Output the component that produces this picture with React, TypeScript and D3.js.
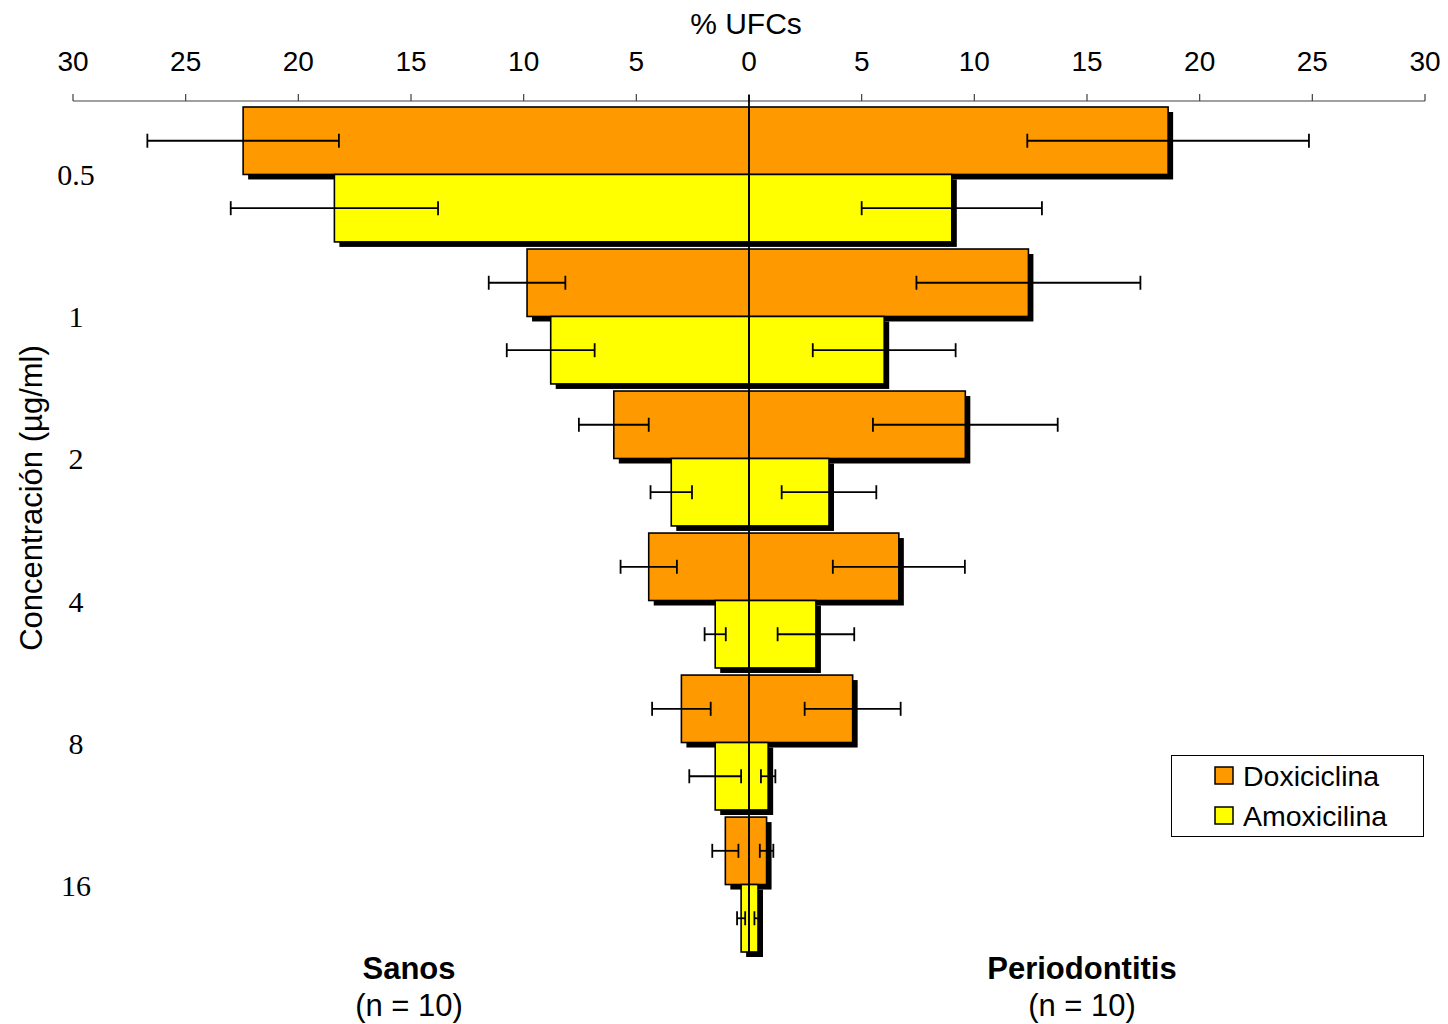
import React from "react";
import * as d3 from "d3";

const concentrations = ["0.5", "1", "2", "4", "8", "16"];
const seriesNames = ["Doxiciclina", "Amoxicilina"];
const seriesColors = ["#FF9900", "#FFFF00"];
const xTicks = [0, 5, 10, 15, 20, 25, 30];

// Sanos (left side)
const sanosDoxi = [22.45, 9.85, 6.0, 4.45, 3.0, 1.05];
const sanosDoxiErr = [4.25, 1.7, 1.55, 1.25, 1.3, 0.58];
const sanosAmoxi = [18.4, 8.8, 3.45, 1.5, 1.5, 0.35];
const sanosAmoxiErr = [4.6, 1.95, 0.92, 0.47, 1.15, 0.18];
// Periodontitis (right side)
const perioDoxi = [18.6, 12.4, 9.6, 6.65, 4.6, 0.78];
const perioDoxiErr = [6.25, 4.97, 4.1, 2.93, 2.13, 0.3];
const perioAmoxi = [9.0, 6.0, 3.55, 2.97, 0.85, 0.4];
const perioAmoxiErr = [4.0, 3.17, 2.1, 1.7, 0.32, 0.16];

const W = 1448;
const H = 1024;
const cx = 749;
const top = 107;
const bottom = 952;

export default function App() {
  const xRight = d3.scaleLinear().domain([0, 30]).range([cx, 1425]);
  const xLeft = d3.scaleLinear().domain([0, 30]).range([cx, 73]);
  const yGroup = d3
    .scaleBand<string>()
    .domain(concentrations)
    .range([top, bottom])
    .paddingInner(0.05)
    .paddingOuter(0);
  const ySeries = d3
    .scaleBand<string>()
    .domain(seriesNames)
    .range([0, yGroup.bandwidth()])
    .padding(0);

  const data = [
    { side: "L", vals: [sanosDoxi, sanosAmoxi], errs: [sanosDoxiErr, sanosAmoxiErr] },
    { side: "R", vals: [perioDoxi, perioAmoxi], errs: [perioDoxiErr, perioAmoxiErr] },
  ];

  const sh = 5;
  const sansFont = "'Liberation Sans', Arial, sans-serif";
  const serifFont = "'Liberation Serif', 'Times New Roman', serif";

  const bars: any[] = [];
  const errs: any[] = [];
  concentrations.forEach((c, i) => {
    seriesNames.forEach((s, si) => {
      const y0 = (yGroup(c) as number) + (ySeries(s) as number);
      const h = ySeries.bandwidth();
      data.forEach((d) => {
        const v = d.vals[si][i];
        const e = d.errs[si][i];
        const sc = d.side === "L" ? xLeft : xRight;
        const xa = Math.min(sc(0), sc(v));
        const xb = Math.max(sc(0), sc(v));
        bars.push(
          <g key={`b-${c}-${s}-${d.side}`}>
            <rect x={xa + sh} y={y0 + sh} width={xb - xa} height={h} fill="#000" />
            <rect
              x={xa}
              y={y0}
              width={xb - xa}
              height={h}
              fill={seriesColors[si]}
              stroke="#000"
              strokeWidth={1.6}
            />
          </g>
        );
        const yc = y0 + h / 2;
        const e1 = sc(v - e);
        const e2 = sc(v + e);
        errs.push(
          <g key={`e-${c}-${s}-${d.side}`} stroke="#000" strokeWidth={1.8}>
            <line x1={e1} x2={e2} y1={yc} y2={yc} />
            <line x1={e1} x2={e1} y1={yc - 7} y2={yc + 7} />
            <line x1={e2} x2={e2} y1={yc - 7} y2={yc + 7} />
          </g>
        );
      });
    });
  });

  const axisY = 101;

  return (
    <svg width={W} height={H} style={{ position: "absolute", left: 0, top: 0, background: "#fff" }}>
      <rect x={0} y={0} width={W} height={H} fill="#fff" />
      {/* top axis */}
      <text x={cx - 3} y={34} fontFamily={sansFont} fontSize={30} textAnchor="middle" fill="#000">
        % UFCs
      </text>
      <line x1={73} x2={1425} y1={axisY} y2={axisY} stroke="#808080" strokeWidth={1.5} />
      {xTicks.map((t) => (
        <g key={`tl-${t}`}>
          <line x1={xLeft(t)} x2={xLeft(t)} y1={axisY - 7} y2={axisY} stroke="#404040" strokeWidth={1.2} />
          <text x={xLeft(t)} y={71} fontFamily={sansFont} fontSize={28} textAnchor="middle" fill="#000">
            {t}
          </text>
        </g>
      ))}
      {xTicks
        .filter((t) => t > 0)
        .map((t) => (
          <g key={`tr-${t}`}>
            <line x1={xRight(t)} x2={xRight(t)} y1={axisY - 7} y2={axisY} stroke="#404040" strokeWidth={1.2} />
            <text x={xRight(t)} y={71} fontFamily={sansFont} fontSize={28} textAnchor="middle" fill="#000">
              {t}
            </text>
          </g>
        ))}
      {bars}
      {errs}
      {/* center line */}
      <line x1={cx} x2={cx} y1={axisY - 6} y2={bottom + 3} stroke="#000" strokeWidth={1.8} />
      {/* y labels */}
      {concentrations.map((c) => (
        <text
          key={`yl-${c}`}
          x={76}
          y={(yGroup(c) as number) + yGroup.bandwidth() / 2 + 11}
          fontFamily={serifFont}
          fontSize={30}
          textAnchor="middle"
          fill="#000"
        >
          {c}
        </text>
      ))}
      <text
        transform={`translate(42, 498) rotate(-90)`}
        fontFamily={sansFont}
        fontSize={31}
        textAnchor="middle"
        fill="#000"
      >
        Concentración (µg/ml)
      </text>
      {/* bottom labels */}
      <text x={409} y={979} fontFamily={sansFont} fontSize={31} fontWeight="bold" textAnchor="middle">
        Sanos
      </text>
      <text x={409} y={1016} fontFamily={sansFont} fontSize={31} textAnchor="middle">
        (n = 10)
      </text>
      <text x={1082} y={979} fontFamily={sansFont} fontSize={31} fontWeight="bold" textAnchor="middle">
        Periodontitis
      </text>
      <text x={1082} y={1016} fontFamily={sansFont} fontSize={31} textAnchor="middle">
        (n = 10)
      </text>
      {/* legend */}
      <rect x={1171.5} y={755.5} width={252} height={81} fill="#fff" stroke="#000" strokeWidth={1} />
      {seriesNames.map((s, i) => (
        <g key={`lg-${s}`}>
          <rect
            x={1215}
            y={767 + i * 40}
            width={18}
            height={17}
            fill={seriesColors[i]}
            stroke="#000"
            strokeWidth={1.5}
          />
          <text x={1243} y={786 + i * 40} fontFamily={sansFont} fontSize={28.5} fill="#000">
            {s}
          </text>
        </g>
      ))}
    </svg>
  );
}
